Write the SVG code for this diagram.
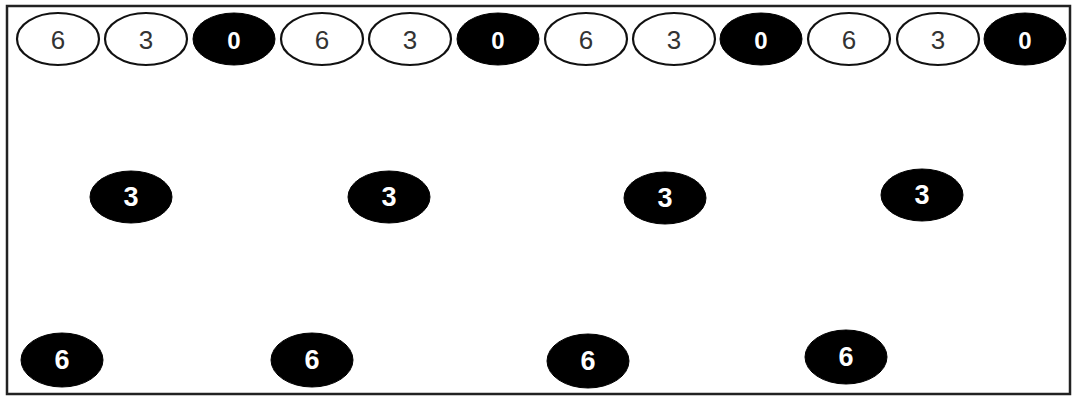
<svg xmlns="http://www.w3.org/2000/svg" width="1077" height="398" viewBox="0 0 1077 398">
<style>
.o{fill:#fff;stroke:#111;stroke-width:2.2}
.b{fill:#000;stroke:#000;stroke-width:1}
.to{font-family:"Liberation Sans",Arial,sans-serif;font-size:26px;fill:#333;text-anchor:middle;dominant-baseline:central}
.tb{font-family:"Liberation Sans",Arial,sans-serif;font-size:27px;font-weight:bold;fill:#fff;text-anchor:middle;dominant-baseline:central}
.t0{font-size:24px}
</style>
<rect x="0" y="0" width="1077" height="398" fill="#fff"/>
<rect id="frame" x="7" y="6" width="1063" height="388" fill="none" stroke="#222" stroke-width="2.5"/>
<g id="top-row">
<g id="t1"><ellipse class="o" cx="58" cy="39" rx="41" ry="26"/><text class="to" x="58" y="40">6</text></g>
<g id="t2"><ellipse class="o" cx="146" cy="39" rx="41" ry="26"/><text class="to" x="146" y="40">3</text></g>
<g id="t3"><ellipse class="b" cx="234" cy="39" rx="41" ry="26"/><text class="tb t0" x="234" y="40">0</text></g>
<g id="t4"><ellipse class="o" cx="322" cy="39" rx="41" ry="26"/><text class="to" x="322" y="40">6</text></g>
<g id="t5"><ellipse class="o" cx="410" cy="39" rx="41" ry="26"/><text class="to" x="410" y="40">3</text></g>
<g id="t6"><ellipse class="b" cx="498" cy="39" rx="41" ry="26"/><text class="tb t0" x="498" y="40">0</text></g>
<g id="t7"><ellipse class="o" cx="586" cy="39" rx="41" ry="26"/><text class="to" x="586" y="40">6</text></g>
<g id="t8"><ellipse class="o" cx="674" cy="39" rx="41" ry="26"/><text class="to" x="674" y="40">3</text></g>
<g id="t9"><ellipse class="b" cx="761" cy="39" rx="41" ry="26"/><text class="tb t0" x="761" y="40">0</text></g>
<g id="t10"><ellipse class="o" cx="849" cy="39" rx="41" ry="26"/><text class="to" x="849" y="40">6</text></g>
<g id="t11"><ellipse class="o" cx="938" cy="39" rx="41" ry="26"/><text class="to" x="938" y="40">3</text></g>
<g id="t12"><ellipse class="b" cx="1025" cy="39" rx="41" ry="26"/><text class="tb t0" x="1025" y="40">0</text></g>
</g>
<g id="middle-row">
<g id="m1"><ellipse class="b" cx="131" cy="197" rx="41" ry="26"/><text class="tb" x="131" y="197">3</text></g>
<g id="m2"><ellipse class="b" cx="389" cy="197" rx="41" ry="26"/><text class="tb" x="389" y="197">3</text></g>
<g id="m3"><ellipse class="b" cx="665" cy="198" rx="41" ry="26"/><text class="tb" x="665" y="198">3</text></g>
<g id="m4"><ellipse class="b" cx="922" cy="195" rx="41" ry="26"/><text class="tb" x="922" y="195">3</text></g>
</g>
<g id="bottom-row">
<g id="b1"><ellipse class="b" cx="62" cy="360" rx="41" ry="27"/><text class="tb" x="62" y="360">6</text></g>
<g id="b2"><ellipse class="b" cx="312" cy="360" rx="41" ry="27"/><text class="tb" x="312" y="360">6</text></g>
<g id="b3"><ellipse class="b" cx="588" cy="361" rx="41" ry="27"/><text class="tb" x="588" y="361">6</text></g>
<g id="b4"><ellipse class="b" cx="846" cy="357" rx="41" ry="27"/><text class="tb" x="846" y="357">6</text></g>
</g>
<g id="connectors"/>
</svg>
